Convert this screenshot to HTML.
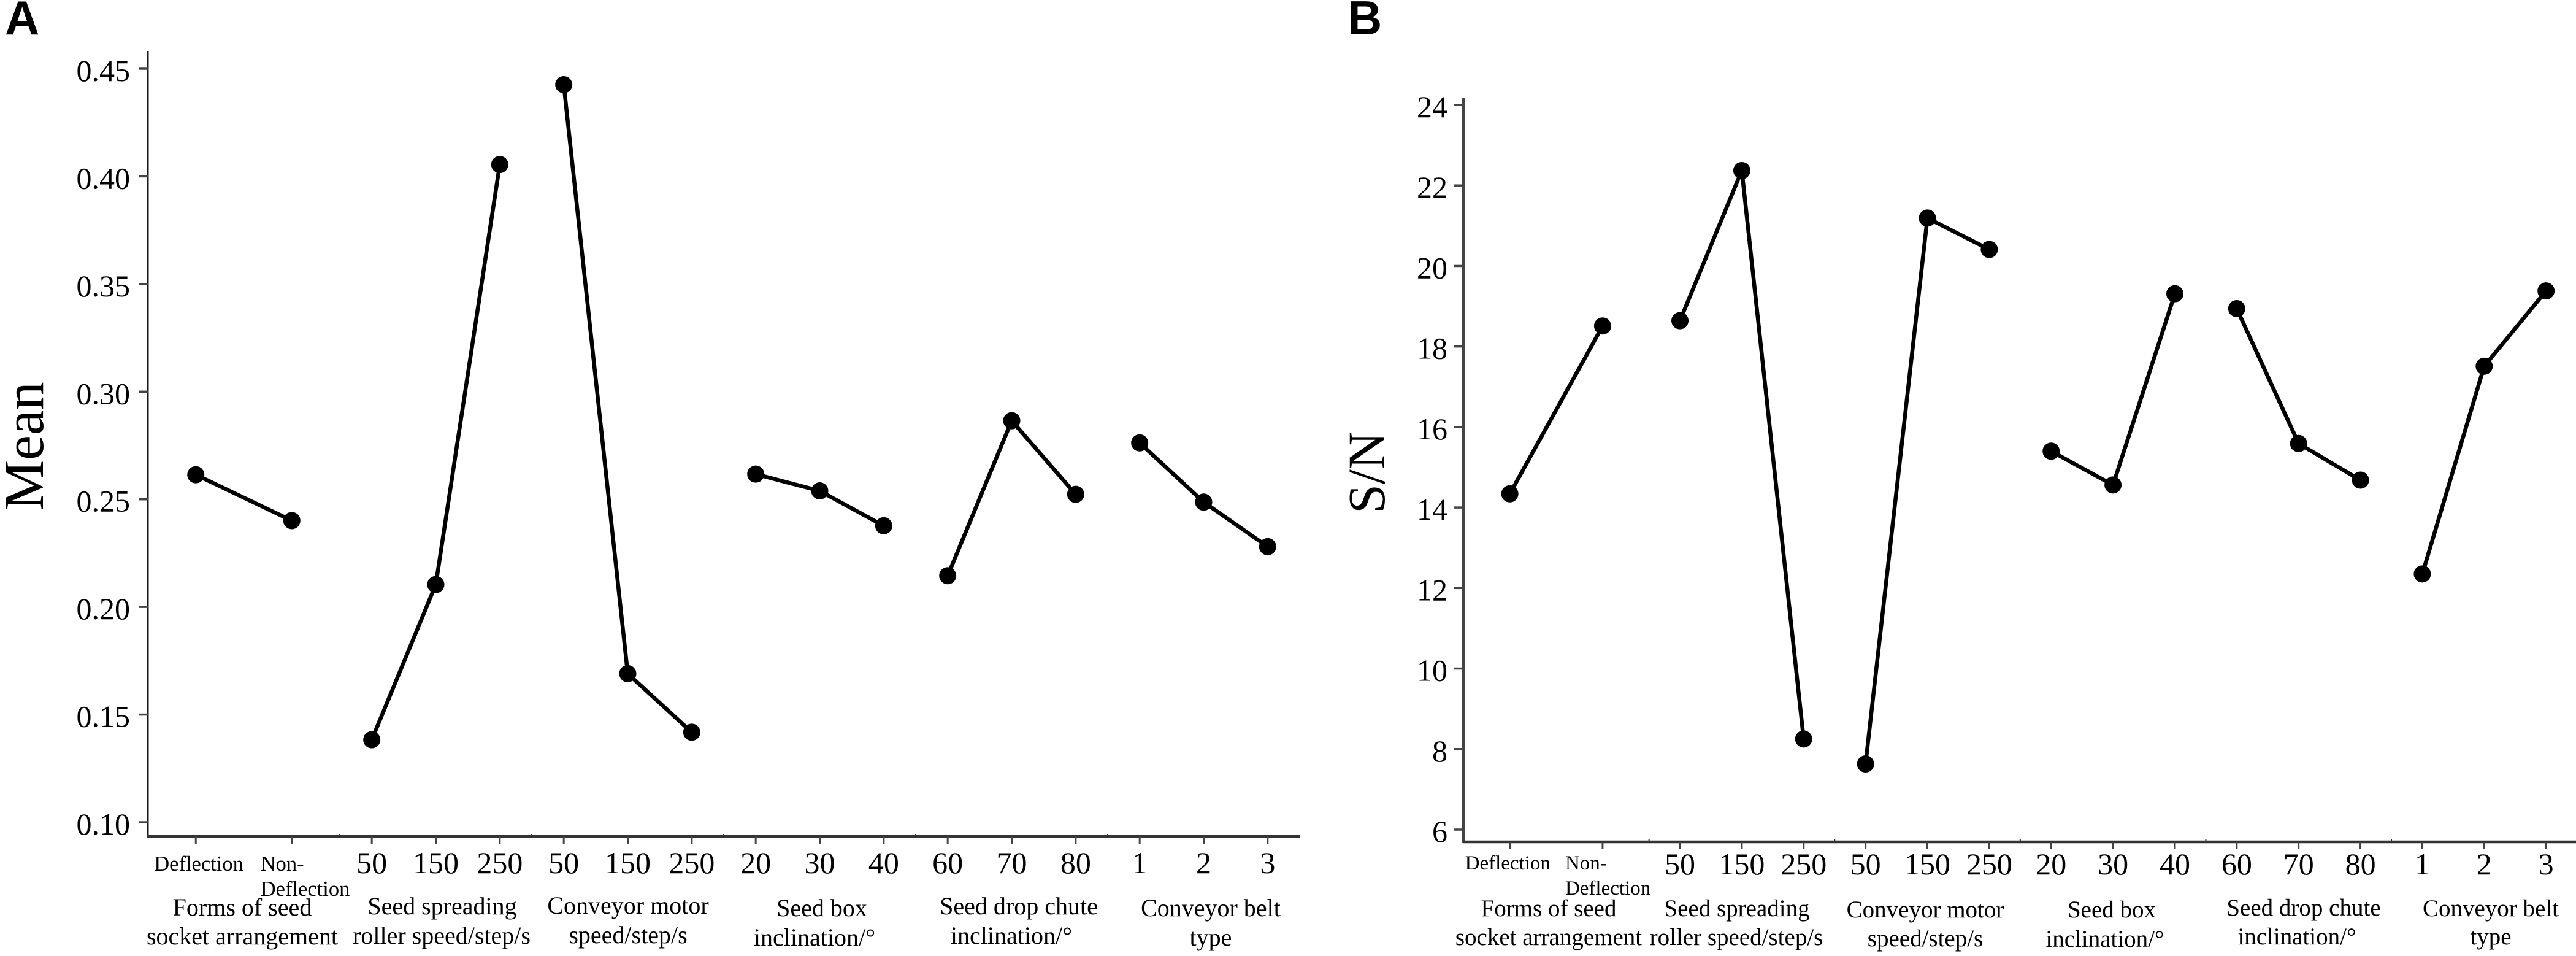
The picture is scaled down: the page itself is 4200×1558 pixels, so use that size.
<!DOCTYPE html>
<html lang="en">
<head>
<meta charset="utf-8">
<title>Main effect plots of mean and S/N ratio</title>
<style>
  html, body { margin: 0; padding: 0; background: #fff; }
  body { width: 4200px; height: 1558px; overflow: hidden; }
  svg { display: block; }
  text { font-family: "Liberation Serif", serif; fill: #000; }
  .panel-letter { font-family: "Liberation Sans", sans-serif; font-weight: 700; font-size: 78px; }
  .factor-title { text-anchor: middle; }
</style>
</head>
<body>
<svg id="chart" xmlns="http://www.w3.org/2000/svg" width="4200" height="1558" viewBox="0 0 4200 1558">
  <rect x="0" y="0" width="4200" height="1558" fill="#fff"/>

  <text class="panel-letter" x="8" y="56">A</text>
  <text class="panel-letter" x="2197" y="56">B</text>

  <text font-size="92" text-anchor="middle" transform="translate(70 727) rotate(-90)">Mean</text>
  <text font-size="86" text-anchor="middle" transform="translate(2257 770) rotate(-90)">S/N</text>

  <g font-size="40">
    <text class="factor-title" x="395" y="1492">Forms of seed</text>
    <text class="factor-title" x="395" y="1539">socket arrangement</text>
    <text class="factor-title" x="721" y="1490">Seed spreading</text>
    <text class="factor-title" x="720" y="1538">roller speed/step/s</text>
    <text class="factor-title" x="1024" y="1489">Conveyor motor</text>
    <text class="factor-title" x="1024" y="1537">speed/step/s</text>
    <text class="factor-title" x="1340" y="1493">Seed box</text>
    <text class="factor-title" x="1328" y="1541">inclination/°</text>
    <text class="factor-title" x="1661" y="1490">Seed drop chute</text>
    <text class="factor-title" x="1649" y="1538">inclination/°</text>
    <text class="factor-title" x="1974" y="1493">Conveyor belt</text>
    <text class="factor-title" x="1974" y="1541">type</text>
  </g>

  <g font-size="39">
    <text class="factor-title" x="2525" y="1493">Forms of seed</text>
    <text class="factor-title" x="2525" y="1540">socket arrangement</text>
    <text class="factor-title" x="2832" y="1493">Seed spreading</text>
    <text class="factor-title" x="2831" y="1540">roller speed/step/s</text>
    <text class="factor-title" x="3139" y="1495">Conveyor motor</text>
    <text class="factor-title" x="3139" y="1542">speed/step/s</text>
    <text class="factor-title" x="3443" y="1495">Seed box</text>
    <text class="factor-title" x="3432" y="1543">inclination/°</text>
    <text class="factor-title" x="3756" y="1492">Seed drop chute</text>
    <text class="factor-title" x="3745" y="1539">inclination/°</text>
    <text class="factor-title" x="4061" y="1493">Conveyor belt</text>
    <text class="factor-title" x="4061" y="1539">type</text>
  </g>
</svg>

<script>
// Category labels: one array per factor
const socketForms = ["Deflection", "Non-Deflection"];
const rollerSpeeds = ["50", "150", "250"];
const conveyorSpeeds = ["50", "150", "250"];
const boxInclinations = ["20", "30", "40"];
const chuteInclinations = ["60", "70", "80"];
const beltTypes = ["1", "2", "3"];
const factorLevels = [socketForms, rollerSpeeds, conveyorSpeeds, boxInclinations, chuteInclinations, beltTypes];

// Panel A: mean values, one series per factor
const meanSocket = [0.2614, 0.2401];
const meanRoller = [0.1383, 0.2104, 0.4055];
const meanConveyor = [0.4426, 0.1690, 0.1418];
const meanBox = [0.2617, 0.2539, 0.2377];
const meanChute = [0.2145, 0.2865, 0.2523];
const meanBelt = [0.2762, 0.2487, 0.2280];
const meanSeries = [meanSocket, meanRoller, meanConveyor, meanBox, meanChute, meanBelt];
const meanTicks = ["0.10", "0.15", "0.20", "0.25", "0.30", "0.35", "0.40", "0.45"];

// Panel B: S/N values, one series per factor
const snSocket = [14.34, 18.51];
const snRoller = [18.64, 22.37, 8.25];
const snConveyor = [7.63, 21.19, 20.41];
const snBox = [15.40, 14.56, 19.31];
const snChute = [18.94, 15.59, 14.68];
const snBelt = [12.35, 17.51, 19.38];
const snSeries = [snSocket, snRoller, snConveyor, snBox, snChute, snBelt];
const snTicks = ["6", "8", "10", "12", "14", "16", "18", "20", "22", "24"];

const svgNS = "http://www.w3.org/2000/svg";
const chart = document.getElementById("chart");

function svgEl(tag, parent) {
  const el = document.createElementNS(svgNS, tag);
  parent.appendChild(el);
  return el;
}

function linearScale(d0, d1, r0, r1) {
  return function (v) { return r0 + (v - d0) / (d1 - d0) * (r1 - r0); };
}

function drawPanel(key, series, ticks, o) {
  const y = linearScale(Number(ticks[0]), Number(ticks[ticks.length - 1]), o.tickBottom, o.tickTop);
  const x = function (factor, level, count) {
    return o.left + o.band * factor + o.band * (level + 0.5) / count;
  };

  const panel = svgEl("g", chart);
  
  

  // y axis
  const yAxis = svgEl("line", panel);
  
  
  yAxis.setAttribute("x1", o.left);
  yAxis.setAttribute("x2", o.left);
  yAxis.setAttribute("y1", o.axisTop);
  yAxis.setAttribute("y2", o.baseline + 2);
  yAxis.setAttribute("stroke", o.yAxisColor);
  yAxis.setAttribute("stroke-width", o.yAxisWidth);

  // x axis
  const xAxis = svgEl("line", panel);
  
  
  xAxis.setAttribute("x1", o.left - 1);
  xAxis.setAttribute("x2", o.left + o.band * 6);
  xAxis.setAttribute("y1", o.baseline);
  xAxis.setAttribute("y2", o.baseline);
  xAxis.setAttribute("stroke", "#333");
  xAxis.setAttribute("stroke-width", 4.5);

  // y ticks and labels
  ticks.forEach(function (t) {
    const tick = svgEl("line", panel);
    
    
    tick.setAttribute("x1", o.left - 15);
    tick.setAttribute("x2", o.left);
    tick.setAttribute("y1", y(Number(t)));
    tick.setAttribute("y2", y(Number(t)));
    tick.setAttribute("stroke", "#444");
    tick.setAttribute("stroke-width", 3.5);

    const label = svgEl("text", panel);
    
    
    label.setAttribute("x", o.yLabelRight);
    label.setAttribute("y", y(Number(t)) + 20);
    label.setAttribute("text-anchor", "end");
    label.setAttribute("font-size", 50);
    label.textContent = t;
  });

  factorLevels.forEach(function (levels, f) {
    // small notch between factor groups
    if (f > 0) {
      const notch = svgEl("line", panel);
      
      
      notch.setAttribute("x1", o.left + o.band * f);
      notch.setAttribute("x2", o.left + o.band * f);
      notch.setAttribute("y1", o.baseline - 4);
      notch.setAttribute("y2", o.baseline);
      notch.setAttribute("stroke", "#333");
      notch.setAttribute("stroke-width", 2);
    }

    // x ticks and labels
    levels.forEach(function (lev, i) {
      const px = x(f, i, levels.length);
      const tick = svgEl("line", panel);
      
      
      tick.setAttribute("x1", px);
      tick.setAttribute("x2", px);
      tick.setAttribute("y1", o.baseline);
      tick.setAttribute("y2", o.baseline + 12);
      tick.setAttribute("stroke", "#444");
      tick.setAttribute("stroke-width", 3);

      const label = svgEl("text", panel);
      
      
      if (f === 0) {
        label.setAttribute("font-size", o.smallFont);
        const parts = lev.indexOf("-") > 0 ? [lev.split("-")[0] + "-", lev.split("-")[1]] : [lev];
        const startX = px + (i === 0 ? o.firstLabelOffset : o.secondLabelOffset);
        parts.forEach(function (p, n) {
          const span = svgEl("tspan", label);
          span.setAttribute("x", startX);
          span.setAttribute("y", o.smallBaseline + n * o.smallLeading);
          span.textContent = p;
        });
      } else {
        label.setAttribute("x", px);
        label.setAttribute("y", o.labelBaseline);
        label.setAttribute("text-anchor", "middle");
        label.setAttribute("font-size", 50);
        label.textContent = lev;
      }
    });

    // series line and markers
    const values = series[f];
    const line = svgEl("polyline", panel);
    
    
    line.setAttribute("fill", "none");
    line.setAttribute("stroke", "#000");
    line.setAttribute("stroke-width", 6.5);
    line.setAttribute("points", values.map(function (v, i) {
      return x(f, i, values.length) + "," + y(v);
    }).join(" "));

    values.forEach(function (v, i) {
      const dot = svgEl("circle", panel);
      
      
      dot.setAttribute("cx", x(f, i, values.length));
      dot.setAttribute("cy", y(v));
      dot.setAttribute("r", 14);
      dot.setAttribute("fill", "#000");
    });
  });
}

drawPanel("mean", meanSeries, meanTicks, {
  left: 241, band: 313, axisTop: 83, baseline: 1363,
  tickTop: 112, tickBottom: 1340, yLabelRight: 212,
  yAxisColor: "#1a1a1a", yAxisWidth: 3,
  labelBaseline: 1423, smallFont: 34.5, smallBaseline: 1419, smallLeading: 41,
  firstLabelOffset: -68, secondLabelOffset: -51
});

drawPanel("sn", snSeries, snTicks, {
  left: 2386, band: 302.6, axisTop: 160, baseline: 1372,
  tickTop: 171, tickBottom: 1352, yLabelRight: 2360,
  yAxisColor: "#444", yAxisWidth: 4,
  labelBaseline: 1425, smallFont: 33, smallBaseline: 1417, smallLeading: 41,
  firstLabelOffset: -73, secondLabelOffset: -61
});
</script>
</body>
</html>
